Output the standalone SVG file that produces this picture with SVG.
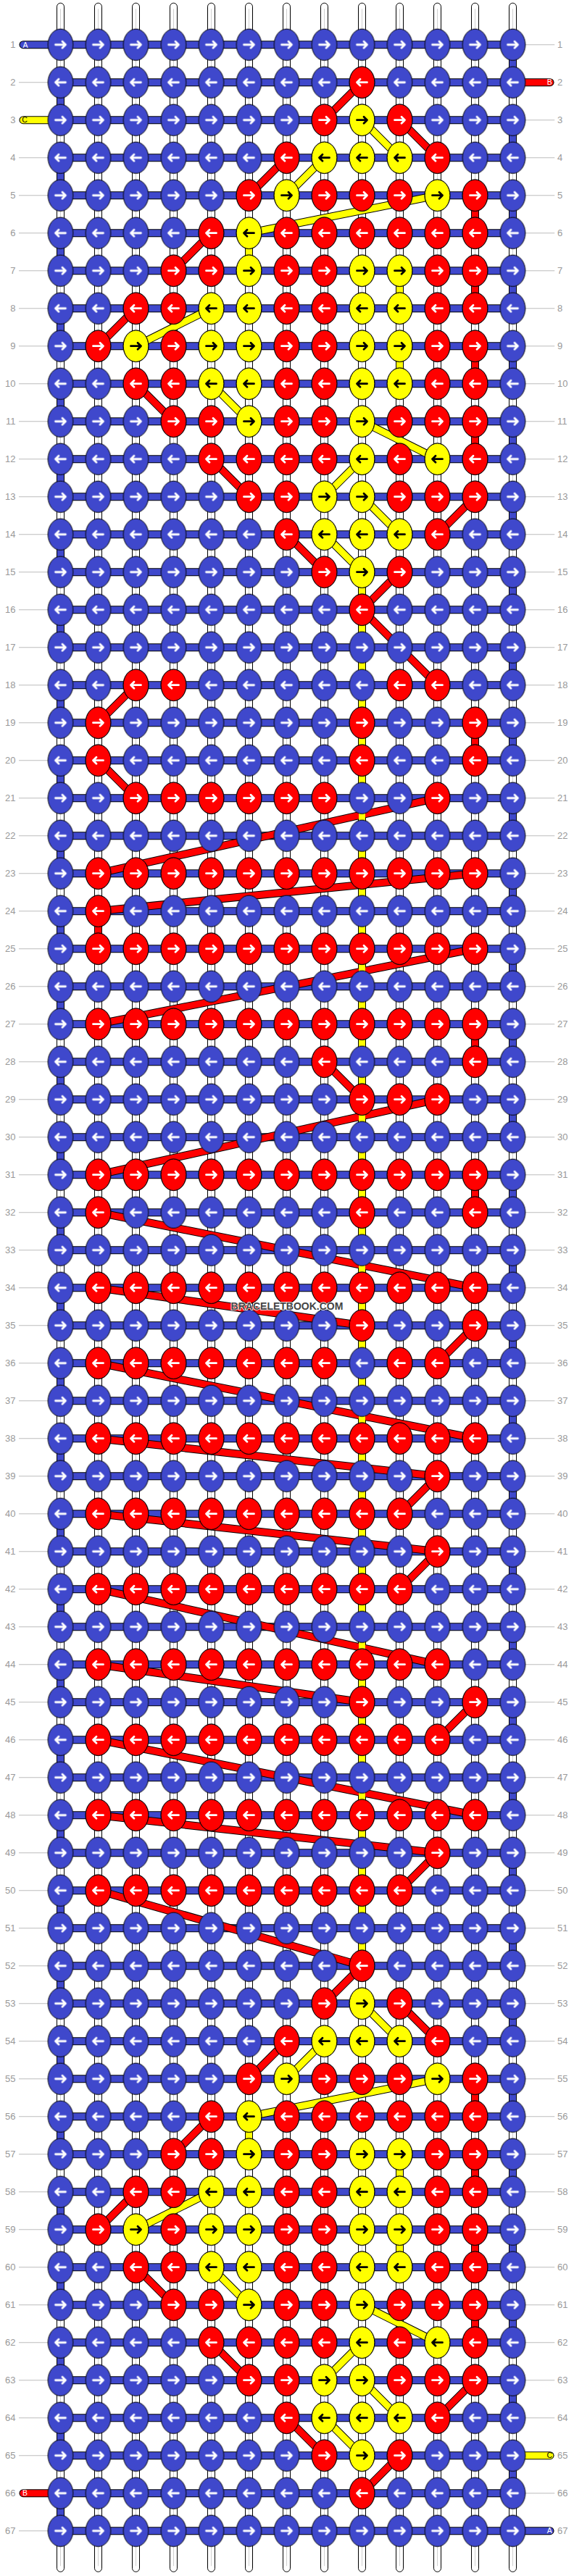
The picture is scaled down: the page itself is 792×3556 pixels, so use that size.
<svg xmlns="http://www.w3.org/2000/svg" width="792" height="3556" viewBox="0 0 792 3556">
<style>
.kb{fill:#3F48CC}
.kr{fill:#FF0000}
.ky{fill:#FFFF00}
ellipse{stroke:#000;stroke-width:1}
.aw{fill:none;stroke:#fff;stroke-width:2.8;stroke-linecap:round;stroke-linejoin:round}
.ak{fill:none;stroke:#000;stroke-width:2.8;stroke-linecap:round;stroke-linejoin:round}
.ol{fill:none;stroke:#000;stroke-width:11}
.fr{fill:none;stroke:#FF0000;stroke-width:9}
.fy{fill:none;stroke:#FFFF00;stroke-width:9}
.fb{fill:none;stroke:#3F48CC;stroke-width:9}
.warp{fill:#fff;stroke:#000;stroke-width:1}
.olr{fill:none;stroke:#000;stroke-width:11;stroke-linecap:round}
.sr{fill:none;stroke:#FF0000;stroke-width:9;stroke-linecap:round}
.sy{fill:none;stroke:#FFFF00;stroke-width:9;stroke-linecap:round}
.sb{fill:none;stroke:#3F48CC;stroke-width:9;stroke-linecap:round}
.num{font-family:"Liberation Sans",Arial,sans-serif;font-size:13px;fill:#999}
.let{font-family:"Liberation Sans",Arial,sans-serif;font-size:10.5px;text-anchor:middle}
</style>
<defs>
<g id="bR"><ellipse rx="17.3" ry="21.7" class="kb"/><path class="aw" d="M-7,0H7M2.5,-4.5L7,0L2.5,4.5"/></g>
<g id="bL"><ellipse rx="17.3" ry="21.7" class="kb"/><path class="aw" d="M7,0H-7M-2.5,-4.5L-7,0L-2.5,4.5"/></g>
<g id="rR"><ellipse rx="17.3" ry="21.7" class="kr"/><path class="aw" d="M-7,0H7M2.5,-4.5L7,0L2.5,4.5"/></g>
<g id="rL"><ellipse rx="17.3" ry="21.7" class="kr"/><path class="aw" d="M7,0H-7M-2.5,-4.5L-7,0L-2.5,4.5"/></g>
<g id="yR"><ellipse rx="17.3" ry="21.7" class="ky"/><path class="ak" d="M-7,0H7M2.5,-4.5L7,0L2.5,4.5"/></g>
<g id="yL"><ellipse rx="17.3" ry="21.7" class="ky"/><path class="ak" d="M7,0H-7M-2.5,-4.5L-7,0L-2.5,4.5"/></g>
<g id="fR"><use href="#rR" x="52"/><use href="#rR" x="104"/><use href="#rR" x="156"/><use href="#rR" x="208"/><use href="#rR" x="260"/><use href="#rR" x="312"/><use href="#rR" x="364"/><use href="#rR" x="416"/><use href="#rR" x="468"/><use href="#rR" x="520"/><use href="#rR" x="572"/></g>
<g id="nL"><use href="#rL" x="52"/><use href="#rL" x="104"/><use href="#rL" x="156"/><use href="#rL" x="208"/><use href="#rL" x="260"/><use href="#rL" x="312"/><use href="#rL" x="364"/><use href="#rL" x="416"/><use href="#rL" x="468"/></g>
<g id="tL"><use href="#nL"/><use href="#rL" x="520"/></g>
<g id="fL"><use href="#tL"/><use href="#rL" x="572"/></g>
<pattern id="bk" x="-26" y="-26" width="52" height="104" patternUnits="userSpaceOnUse"><use href="#bR" x="26" y="26"/><use href="#bL" x="26" y="78"/></pattern>
<path id="mR" d="M416,52L364,104M468,104L520,156M312,156L260,208M572,208V260M208,260L156,312M572,312V364M104,364L52,416M572,416V468M104,468L156,520M572,520V572M208,572L260,624M572,624L520,676M312,676L364,728M468,728L416,780"/>
<path id="mY" d="M416,104L468,156M364,156L312,208M520,208L260,260M260,260V312M468,312V364M208,364L104,416M468,416V468M208,468L260,520M416,520L520,572M416,572L364,624M416,624L468,676M364,676L416,728"/>
<path id="cR" d="M416,780L520,884M104,884L52,936M572,936V988M52,988L104,1040M520,1040L52,1144M572,1144L52,1196M52,1196V1248M572,1248L52,1352M572,1352V1404M364,1404L416,1456M520,1456L52,1560M572,1560V1612M52,1612L572,1716M52,1716L416,1768M572,1768L520,1820M52,1820L572,1924M52,1924L520,1976M520,1976L468,2028M52,2028L520,2080M520,2080L468,2132M52,2132L520,2236M52,2236L416,2288M572,2288L520,2340M52,2340L572,2444M52,2444L520,2496M520,2496L468,2548M52,2548L416,2652"/>
<path id="cY" d="M416,728V2652"/>
<g id="nums"><text y="4.5">1</text><text y="56.5">2</text><text y="108.5">3</text><text y="160.5">4</text><text y="212.5">5</text><text y="264.5">6</text><text y="316.5">7</text><text y="368.5">8</text><text y="420.5">9</text><text y="472.5">10</text><text y="524.5">11</text><text y="576.5">12</text><text y="628.5">13</text><text y="680.5">14</text><text y="732.5">15</text><text y="784.5">16</text><text y="836.5">17</text><text y="888.5">18</text><text y="940.5">19</text><text y="992.5">20</text><text y="1044.5">21</text><text y="1096.5">22</text><text y="1148.5">23</text><text y="1200.5">24</text><text y="1252.5">25</text><text y="1304.5">26</text><text y="1356.5">27</text><text y="1408.5">28</text><text y="1460.5">29</text><text y="1512.5">30</text><text y="1564.5">31</text><text y="1616.5">32</text><text y="1668.5">33</text><text y="1720.5">34</text><text y="1772.5">35</text><text y="1824.5">36</text><text y="1876.5">37</text><text y="1928.5">38</text><text y="1980.5">39</text><text y="2032.5">40</text><text y="2084.5">41</text><text y="2136.5">42</text><text y="2188.5">43</text><text y="2240.5">44</text><text y="2292.5">45</text><text y="2344.5">46</text><text y="2396.5">47</text><text y="2448.5">48</text><text y="2500.5">49</text><text y="2552.5">50</text><text y="2604.5">51</text><text y="2656.5">52</text><text y="2708.5">53</text><text y="2760.5">54</text><text y="2812.5">55</text><text y="2864.5">56</text><text y="2916.5">57</text><text y="2968.5">58</text><text y="3020.5">59</text><text y="3072.5">60</text><text y="3124.5">61</text><text y="3176.5">62</text><text y="3228.5">63</text><text y="3280.5">64</text><text y="3332.5">65</text><text y="3384.5">66</text><text y="3436.5">67</text></g>
</defs>
<rect width="792" height="3556" fill="#fff"/>
<g transform="translate(83.5,61.7)">
<g id="strings">
<rect class="warp" x="-5" y="-57.5" width="10" height="3546" rx="5"/>
<rect class="warp" x="47" y="-57.5" width="10" height="3546" rx="5"/>
<rect class="warp" x="99" y="-57.5" width="10" height="3546" rx="5"/>
<rect class="warp" x="151" y="-57.5" width="10" height="3546" rx="5"/>
<rect class="warp" x="203" y="-57.5" width="10" height="3546" rx="5"/>
<rect class="warp" x="255" y="-57.5" width="10" height="3546" rx="5"/>
<rect class="warp" x="307" y="-57.5" width="10" height="3546" rx="5"/>
<rect class="warp" x="359" y="-57.5" width="10" height="3546" rx="5"/>
<rect class="warp" x="411" y="-57.5" width="10" height="3546" rx="5"/>
<rect class="warp" x="463" y="-57.5" width="10" height="3546" rx="5"/>
<rect class="warp" x="515" y="-57.5" width="10" height="3546" rx="5"/>
<rect class="warp" x="567" y="-57.5" width="10" height="3546" rx="5"/>
<rect class="warp" x="619" y="-57.5" width="10" height="3546" rx="5"/>
<line x1="-0.5" y1="1715.5" x2="624.5" y2="1715.5" stroke="#d0d0d0" stroke-width="3530" stroke-dasharray="1 51"/>
<line x1="-37.25" y1="-0.5" x2="-37.25" y2="3432.5" stroke="#bdbdbd" stroke-width="40.5" stroke-dasharray="1 51"/>
<line x1="661.5" y1="-0.5" x2="661.5" y2="3432.5" stroke="#bdbdbd" stroke-width="40.5" stroke-dasharray="1 51"/>
</g>
<g id="connectors">
<line x1="312" y1="-5.5" x2="312" y2="3437.5" stroke="#000" stroke-width="624" stroke-dasharray="11 41"/>
<line x1="312" y1="-4.5" x2="312" y2="3436.5" stroke="#3F48CC" stroke-width="624" stroke-dasharray="9 43"/>
<line class="ol" x1="624" y1="0" x2="624" y2="3380" stroke-dasharray="52 52"/>
<line class="fb" x1="624" y1="0" x2="624" y2="3380" stroke-dasharray="52 52"/>
<line class="ol" x1="0" y1="52" x2="0" y2="3432" stroke-dasharray="52 52"/>
<line class="fb" x1="0" y1="52" x2="0" y2="3432" stroke-dasharray="52 52"/>
<g id="stubs">
<path class="olr" d="M-51.5,0H0M-51.5,104H0M-51.5,3380H0M624,52H675.5M624,3328H675.5M624,3432H675.5"/>
<path class="sb" d="M-51.5,0H0M624,3432H675.5"/>
<path class="sy" d="M-51.5,104H0M624,3328H675.5"/>
<path class="sr" d="M-51.5,3380H0M624,52H675.5"/>
</g>
<g id="thread-outlines" class="ol"><use href="#mR"/><use href="#mR" y="2600"/><use href="#cR"/><use href="#mY"/><use href="#mY" y="2600"/><use href="#cY"/></g>
<g id="red-thread" class="fr"><use href="#mR"/><use href="#mR" y="2600"/><use href="#cR"/></g>
<g id="yellow-thread" class="fy"><use href="#mY"/><use href="#mY" y="2600"/><use href="#cY"/></g>
</g>
<g id="knots">
<rect x="-26" y="-26" width="676" height="3484" fill="url(#bk)"/>
<g id="motif">
<g id="r2" transform="translate(0,52)"><use href="#rL" x="416"/></g>
<g id="r3" transform="translate(0,104)"><use href="#rR" x="364"/><use href="#yR" x="416"/><use href="#rR" x="468"/></g>
<g id="r4" transform="translate(0,156)"><use href="#rL" x="312"/><use href="#yL" x="364"/><use href="#yL" x="416"/><use href="#yL" x="468"/><use href="#rL" x="520"/></g>
<g id="r5" transform="translate(0,208)"><use href="#rR" x="260"/><use href="#yR" x="312"/><use href="#rR" x="364"/><use href="#rR" x="416"/><use href="#rR" x="468"/><use href="#yR" x="520"/><use href="#rR" x="572"/></g>
<g id="r6" transform="translate(0,260)"><use href="#rL" x="208"/><use href="#yL" x="260"/><use href="#rL" x="312"/><use href="#rL" x="364"/><use href="#rL" x="416"/><use href="#rL" x="468"/><use href="#rL" x="520"/><use href="#rL" x="572"/></g>
<g id="r7" transform="translate(0,312)"><use href="#rR" x="156"/><use href="#rR" x="208"/><use href="#yR" x="260"/><use href="#rR" x="312"/><use href="#rR" x="364"/><use href="#yR" x="416"/><use href="#yR" x="468"/><use href="#rR" x="520"/><use href="#rR" x="572"/></g>
<g id="r8" transform="translate(0,364)"><use href="#rL" x="104"/><use href="#rL" x="156"/><use href="#yL" x="208"/><use href="#yL" x="260"/><use href="#rL" x="312"/><use href="#rL" x="364"/><use href="#yL" x="416"/><use href="#yL" x="468"/><use href="#rL" x="520"/><use href="#rL" x="572"/></g>
<g id="r9" transform="translate(0,416)"><use href="#rR" x="52"/><use href="#yR" x="104"/><use href="#rR" x="156"/><use href="#yR" x="208"/><use href="#yR" x="260"/><use href="#rR" x="312"/><use href="#rR" x="364"/><use href="#yR" x="416"/><use href="#yR" x="468"/><use href="#rR" x="520"/><use href="#rR" x="572"/></g>
<g id="r10" transform="translate(0,468)"><use href="#rL" x="104"/><use href="#rL" x="156"/><use href="#yL" x="208"/><use href="#yL" x="260"/><use href="#rL" x="312"/><use href="#rL" x="364"/><use href="#yL" x="416"/><use href="#yL" x="468"/><use href="#rL" x="520"/><use href="#rL" x="572"/></g>
<g id="r11" transform="translate(0,520)"><use href="#rR" x="156"/><use href="#rR" x="208"/><use href="#yR" x="260"/><use href="#rR" x="312"/><use href="#rR" x="364"/><use href="#yR" x="416"/><use href="#rR" x="468"/><use href="#rR" x="520"/><use href="#rR" x="572"/></g>
<g id="r12" transform="translate(0,572)"><use href="#rL" x="208"/><use href="#rL" x="260"/><use href="#rL" x="312"/><use href="#rL" x="364"/><use href="#yL" x="416"/><use href="#rL" x="468"/><use href="#yL" x="520"/><use href="#rL" x="572"/></g>
<g id="r13" transform="translate(0,624)"><use href="#rR" x="260"/><use href="#rR" x="312"/><use href="#yR" x="364"/><use href="#yR" x="416"/><use href="#rR" x="468"/><use href="#rR" x="520"/><use href="#rR" x="572"/></g>
<g id="r14" transform="translate(0,676)"><use href="#rL" x="312"/><use href="#yL" x="364"/><use href="#yL" x="416"/><use href="#yL" x="468"/><use href="#rL" x="520"/></g>
<g id="r15" transform="translate(0,728)"><use href="#rR" x="364"/><use href="#yR" x="416"/><use href="#rR" x="468"/></g>
<g id="r16" transform="translate(0,780)"><use href="#rL" x="416"/></g>
</g>
<use id="motif-bottom" href="#motif" y="2600"/>
<g id="r18" transform="translate(0,884)"><use href="#rL" x="104"/><use href="#rL" x="156"/><use href="#rL" x="468"/><use href="#rL" x="520"/></g>
<g id="r19" transform="translate(0,936)"><use href="#rR" x="52"/><use href="#rR" x="416"/><use href="#rR" x="572"/></g>
<g id="r20" transform="translate(0,988)"><use href="#rL" x="52"/><use href="#rL" x="416"/><use href="#rL" x="572"/></g>
<g id="r21" transform="translate(0,1040)"><use href="#rR" x="104"/><use href="#rR" x="156"/><use href="#rR" x="208"/><use href="#rR" x="260"/><use href="#rR" x="312"/><use href="#rR" x="364"/><use href="#rR" x="520"/></g>
<use id="r23" href="#fR" y="1144"/>
<g id="r24" transform="translate(0,1196)"><use href="#rL" x="52"/></g>
<use id="r25" href="#fR" y="1248"/>
<use id="r27" href="#fR" y="1352"/>
<g id="r28" transform="translate(0,1404)"><use href="#rL" x="364"/><use href="#rL" x="572"/></g>
<g id="r29" transform="translate(0,1456)"><use href="#rR" x="416"/><use href="#rR" x="468"/><use href="#rR" x="520"/></g>
<use id="r31" href="#fR" y="1560"/>
<g id="r32" transform="translate(0,1612)"><use href="#rL" x="52"/><use href="#rL" x="416"/><use href="#rL" x="572"/></g>
<use id="r34" href="#fL" y="1716"/>
<g id="r35" transform="translate(0,1768)"><use href="#rR" x="416"/><use href="#rR" x="572"/></g>
<g id="r36" transform="translate(0,1820)"><use href="#rL" x="52"/><use href="#rL" x="104"/><use href="#rL" x="156"/><use href="#rL" x="208"/><use href="#rL" x="260"/><use href="#rL" x="312"/><use href="#rL" x="364"/><use href="#rL" x="468"/><use href="#rL" x="520"/></g>
<use id="r38" href="#fL" y="1924"/>
<g id="r39" transform="translate(0,1976)"><use href="#rR" x="520"/></g>
<use id="r40" href="#nL" y="2028"/>
<g id="r41" transform="translate(0,2080)"><use href="#rR" x="520"/></g>
<use id="r42" href="#nL" y="2132"/>
<use id="r44" href="#tL" y="2236"/>
<g id="r45" transform="translate(0,2288)"><use href="#rR" x="416"/><use href="#rR" x="572"/></g>
<use id="r46" href="#tL" y="2340"/>
<use id="r48" href="#fL" y="2444"/>
<g id="r49" transform="translate(0,2496)"><use href="#rR" x="520"/></g>
<use id="r50" href="#nL" y="2548"/>
</g>
<g id="labels">
<use href="#nums" x="-62" class="num" text-anchor="end"/>
<use href="#nums" x="685.5" class="num" text-anchor="start"/>
<text class="let" x="-48.5" y="3.8" fill="#fff">A</text>
<text class="let" x="-49.5" y="107.8" fill="#000">C</text>
<text class="let" x="-49" y="3383.8" fill="#fff">B</text>
<text class="let" x="674.8" y="55.8" fill="#fff">B</text>
<text class="let" x="674.8" y="3331.8" fill="#000">C</text>
<text class="let" x="674.8" y="3435.8" fill="#fff">A</text>
<text x="312.5" y="1746.5" text-anchor="middle" font-family="Liberation Sans, Arial, sans-serif" font-size="14" font-weight="bold" fill="#444" stroke="#fff" stroke-width="1.5" paint-order="stroke">BRACELETBOOK.COM</text>
</g>
</g>
</svg>
